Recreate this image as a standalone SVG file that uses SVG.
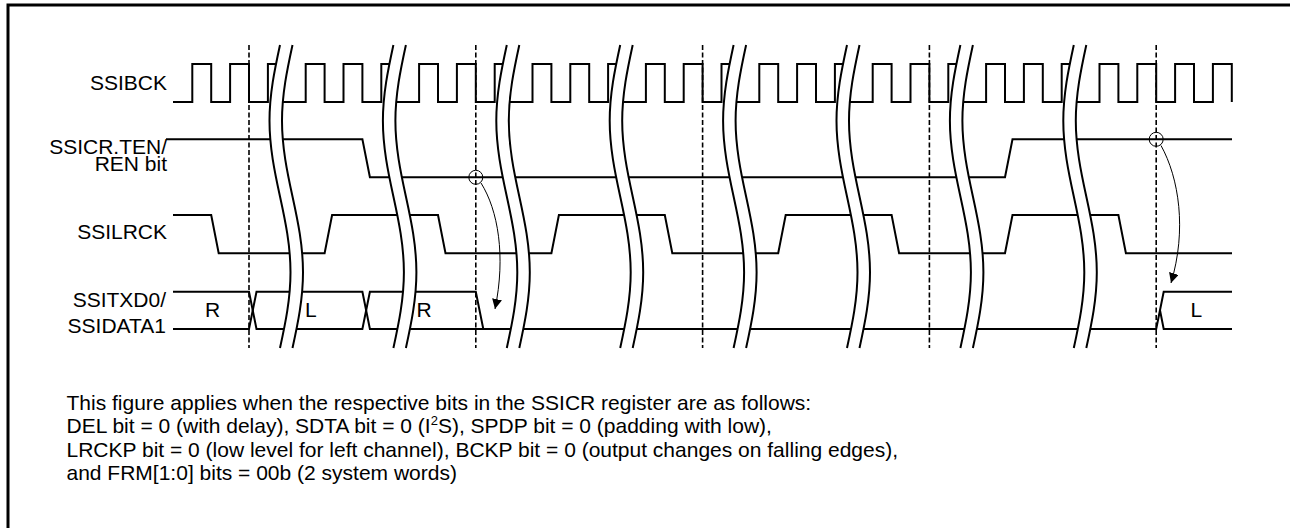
<svg xmlns="http://www.w3.org/2000/svg" xmlns:xlink="http://www.w3.org/1999/xlink" width="1290" height="528" viewBox="0 0 1290 528">
<style>
  text { font-family: "Liberation Sans", Arial, sans-serif; font-size: 21px; fill: #000; }
  .lbl { text-anchor: end; }
  .sig { fill: none; stroke: #000; stroke-width: 2; stroke-linejoin: miter; }
  .dash { fill: none; stroke: #000; stroke-width: 1.6; stroke-dasharray: 5 2.5; }
  .band { fill: #fff; stroke: none; }
  .wave { fill: none; stroke: #000; stroke-width: 2; }
  .thin { fill: none; stroke: #000; stroke-width: 1; }
  .frame { fill: none; stroke: #000; stroke-width: 3; }
</style>
<defs>
  <marker id="ah" viewBox="0 0 10 10" refX="10" refY="5" markerWidth="10" markerHeight="10" markerUnits="userSpaceOnUse" orient="auto">
    <path d="M0,0 L10,5 L0,10 z" fill="#000"/>
  </marker>
  <path id="wv" class="wave" d="M0,45 C-5.38,69.7 -10.5,94.2 -10.5,120.75 C-10.5,147.3 -5.38,171.8 0,196.5 C5.38,221.2 10.5,245.7 10.5,272.25 C10.5,298.8 5.38,323.3 0,348"/>
  <g id="brk">
    <path class="band" d="M0,45 C-5.38,69.7 -10.5,94.2 -10.5,120.75 C-10.5,147.3 -5.38,171.8 0,196.5 C5.38,221.2 10.5,245.7 10.5,272.25 C10.5,298.8 5.38,323.3 0,348 L12.5,348 C17.88,323.3 23,298.8 23,272.25 C23,245.7 17.88,221.2 12.5,196.5 C7.12,171.8 2,147.3 2,120.75 C2,94.2 7.12,69.7 12.5,45 Z"/>
    <use xlink:href="#wv" href="#wv"/>
    <use xlink:href="#wv" href="#wv" x="12.5"/>
  </g>
</defs>

<path class="frame" d="M8,528 V5 H1290"/>

<g id="labels">
  <text class="lbl" x="167" y="90">SSIBCK</text>
  <text class="lbl" x="167" y="154.3">SSICR.TEN/</text>
  <text class="lbl" x="167" y="170.7">REN bit</text>
  <text class="lbl" x="167" y="239">SSILRCK</text>
  <text class="lbl" x="166" y="306.7">SSITXD0/</text>
  <text class="lbl" x="166" y="333.3">SSIDATA1</text>
</g>

<g id="dashed-lines">
  <line class="dash" x1="249" y1="45" x2="249" y2="348"/>
  <line class="dash" x1="475.8" y1="45" x2="475.8" y2="348"/>
  <line class="dash" x1="702.6" y1="45" x2="702.6" y2="348"/>
  <line class="dash" x1="929.4" y1="45" x2="929.4" y2="348"/>
  <line class="dash" x1="1156.2" y1="45" x2="1156.2" y2="348"/>
</g>

<g id="ssibck">
  <path class="sig" d="M173,102 H192.3 V64 H211.2 V102 H230.1 V64 H249 V102 H267.9 V64 H279 V102 H305.7 V64 H324.6 V102 H343.5 V64 H362.4 V102 H381.3 V64 H392.4 V102 H419.1 V64 H438 V102 H456.9 V64 H475.8 V102 H494.7 V64 H505.8 V102 H532.5 V64 H551.4 V102 H570.3 V64 H589.2 V102 H608.1 V64 H619.2 V102 H645.9 V64 H664.8 V102 H683.7 V64 H702.6 V102 H721.5 V64 H732.6 V102 H759.3 V64 H778.2 V102 H797.1 V64 H816 V102 H834.9 V64 H846 V102 H872.7 V64 H891.6 V102 H910.5 V64 H929.4 V102 H948.3 V64 H959.4 V102 H986.1 V64 H1005 V102 H1023.9 V64 H1042.8 V102 H1061.7 V64 H1072.8 V102 H1099.5 V64 H1118.4 V102 H1137.3 V64 H1156.2 V102 H1175.1 V64 H1194 V102 H1212.9 V64 H1231.8 V102"/>
</g>

<g id="ten">
  <path class="sig" d="M166,139.3 H362.4 L369.9,177.3 H1005 L1012.5,139.3 H1232"/>
</g>

<g id="ssilrck">
  <path class="sig" d="M173,215 H211.2 L218.7,253.3 H324.6 L332.1,215 H438 L445.5,253.3 H551.4 L558.9,215 H664.8 L672.3,253.3 H778.2 L785.7,215 H891.6 L899.1,253.3 H1005 L1012.5,215 H1118.4 L1125.9,253.3 H1232"/>
</g>

<g id="data">
  <path class="sig" d="M173,291.7 H249 L256.5,329 H362.4 L369.9,291.7 H475.8 L483.3,329 H1156.2 L1163.7,291.7 H1232"/>
  <path class="sig" d="M173,329 H249 L256.5,291.7 H362.4 L369.9,329 H483.3"/>
  <path class="sig" d="M1160,310.3 L1163.7,329 H1232"/>
</g>

<g id="breaks">
  <use xlink:href="#brk" href="#brk" x="280"/>
  <use xlink:href="#brk" href="#brk" x="393.4"/>
  <use xlink:href="#brk" href="#brk" x="506.8"/>
  <use xlink:href="#brk" href="#brk" x="620.2"/>
  <use xlink:href="#brk" href="#brk" x="733.6"/>
  <use xlink:href="#brk" href="#brk" x="847"/>
  <use xlink:href="#brk" href="#brk" x="960.4"/>
  <use xlink:href="#brk" href="#brk" x="1073.8"/>
</g>

<g id="data-labels">
  <text x="205" y="316.7">R</text>
  <text x="305" y="316.7">L</text>
  <text x="416.5" y="316.7">R</text>
  <text x="1190.5" y="316.7">L</text>
</g>

<g id="connectors">
  <circle class="thin" cx="475.8" cy="177.3" r="7"/>
  <circle class="thin" cx="1156.2" cy="139.3" r="7"/>
  <path class="thin" d="M481,183 C498,210 506,256 495,309" marker-end="url(#ah)"/>
  <path class="thin" d="M1161,145.5 C1179,178 1187,230 1171,283" marker-end="url(#ah)"/>
</g>

<g id="note">
  <text x="66.5" y="410">This figure applies when the respective bits in the SSICR register are as follows:</text>
  <text x="66.5" y="433.3">DEL bit = 0 (with delay), SDTA bit = 0 (I<tspan font-size="13" dy="-8">2</tspan><tspan dy="8">S), SPDP bit = 0 (padding with low),</tspan></text>
  <text x="66.5" y="456.6">LRCKP bit = 0 (low level for left channel), BCKP bit = 0 (output changes on falling edges),</text>
  <text x="66.5" y="480">and FRM[1:0] bits = 00b (2 system words)</text>
</g>
</svg>
